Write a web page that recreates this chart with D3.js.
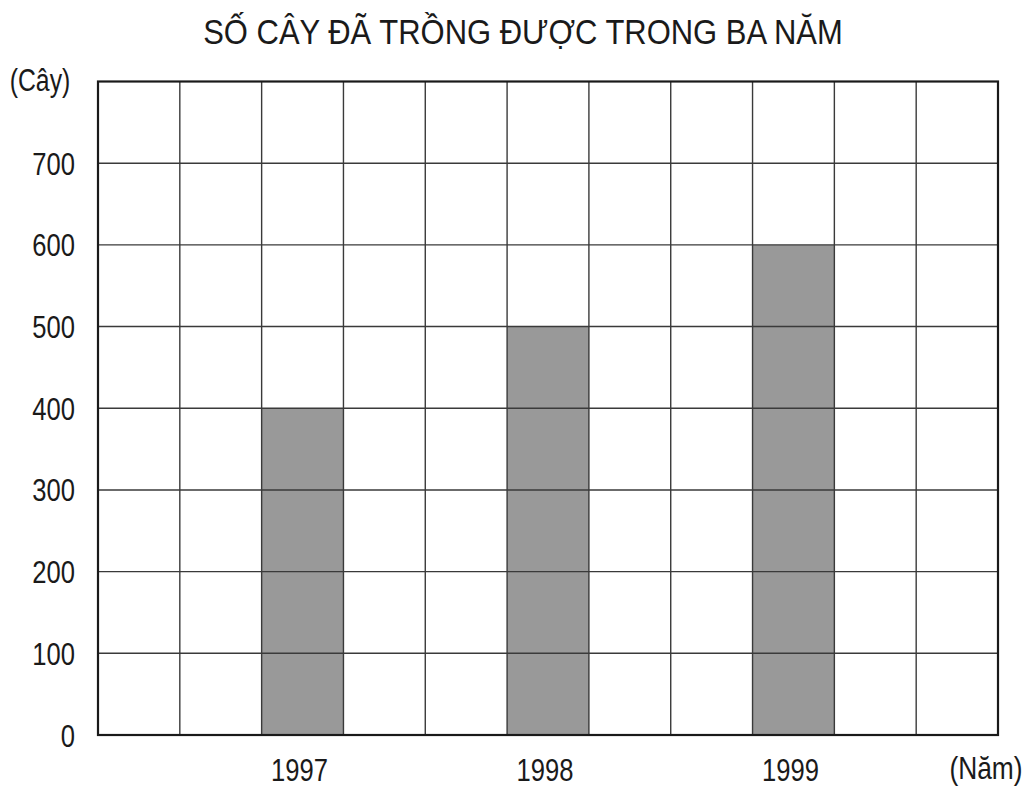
<!DOCTYPE html>
<html>
<head>
<meta charset="utf-8">
<script src="https://cdn.jsdelivr.net/npm/d3@7"></script>
<style>
  body { margin: 0; background: #fff; }
  text { font-family: "Liberation Sans", Arial, sans-serif; fill: #1a1a1a; }
</style>
</head>
<body>
<div id="chart"></div>
<script>
// Data
const years = ["1997", "1998", "1999"];
const trees = [400, 500, 600];
const yTicks = [0, 100, 200, 300, 400, 500, 600, 700];
const title = "SỐ CÂY ĐÃ TRỒNG ĐƯỢC TRONG BA NĂM";

const W = 1031, H = 787;
const margin = { top: 81.5, right: 33, bottom: 52, left: 98 };
const width = W - margin.left - margin.right;
const height = H - margin.top - margin.bottom;

// narrow look: squeeze the text horizontally
const squeeze = 0.8;

const svg = d3.select("#chart")
  .append("svg")
  .attr("width", W)
  .attr("height", H);

const g = svg.append("g")
  .attr("transform", `translate(${margin.left},${margin.top})`);

// 11 grid columns, one bar every third column starting at column 2
const nCols = 11;
const x = d3.scaleLinear().domain([0, nCols]).range([0, width]);
const slot = i => 2 + 3 * i;

const y = d3.scaleLinear().domain([0, 800]).range([height, 0]);

// Bars
g.selectAll("rect.bar")
  .data(trees)
  .join("rect")
  .attr("class", "bar")
  .attr("x", (d, i) => x(slot(i)))
  .attr("y", d => y(d))
  .attr("width", x(1) - x(0))
  .attr("height", d => height - y(d))
  .attr("fill", "#999999");

// Grid lines
g.append("g")
  .selectAll("line")
  .data(d3.range(1, nCols))
  .join("line")
  .attr("x1", d => x(d)).attr("x2", d => x(d))
  .attr("y1", 0).attr("y2", height)
  .attr("stroke", "#3a3a3a")
  .attr("stroke-width", 1.4);

g.append("g")
  .selectAll("line")
  .data(d3.range(100, 800, 100))
  .join("line")
  .attr("x1", 0).attr("x2", width)
  .attr("y1", d => y(d)).attr("y2", d => y(d))
  .attr("stroke", "#3a3a3a")
  .attr("stroke-width", 1.4);

// Frame
g.append("rect")
  .attr("x", 0).attr("y", 0)
  .attr("width", width).attr("height", height)
  .attr("fill", "none")
  .attr("stroke", "#1a1a1a")
  .attr("stroke-width", 2.2);

// Y tick labels
g.selectAll("text.ytick")
  .data(yTicks)
  .join("text")
  .attr("class", "ytick")
  .attr("transform", d => `translate(-23,${y(d)}) scale(${squeeze},1)`)
  .attr("dy", "0.36em")
  .attr("text-anchor", "end")
  .style("font-size", "32px")
  .text(d => d);

// X labels
g.selectAll("text.xlab")
  .data(years)
  .join("text")
  .attr("class", "xlab")
  .attr("transform", (d, i) => `translate(${x(slot(i) + 0.5) - 3},${height + 34}) scale(${squeeze},1)`)
  .attr("dy", "0.36em")
  .attr("text-anchor", "middle")
  .style("font-size", "32px")
  .text(d => d);

// Axis unit labels
svg.append("text")
  .attr("transform", `translate(40,80) scale(${squeeze},1)`)
  .attr("dy", "0.36em")
  .attr("text-anchor", "middle")
  .style("font-size", "31px")
  .text("(Cây)");

svg.append("text")
  .attr("transform", `translate(986,768) scale(0.85,1)`)
  .attr("dy", "0.36em")
  .attr("text-anchor", "middle")
  .style("font-size", "31px")
  .text("(Năm)");

// Title
svg.append("text")
  .attr("transform", `translate(523,44) scale(0.885,1)`)
  .attr("text-anchor", "middle")
  .style("font-size", "35px")
  .text(title);
</script>
</body>
</html>
